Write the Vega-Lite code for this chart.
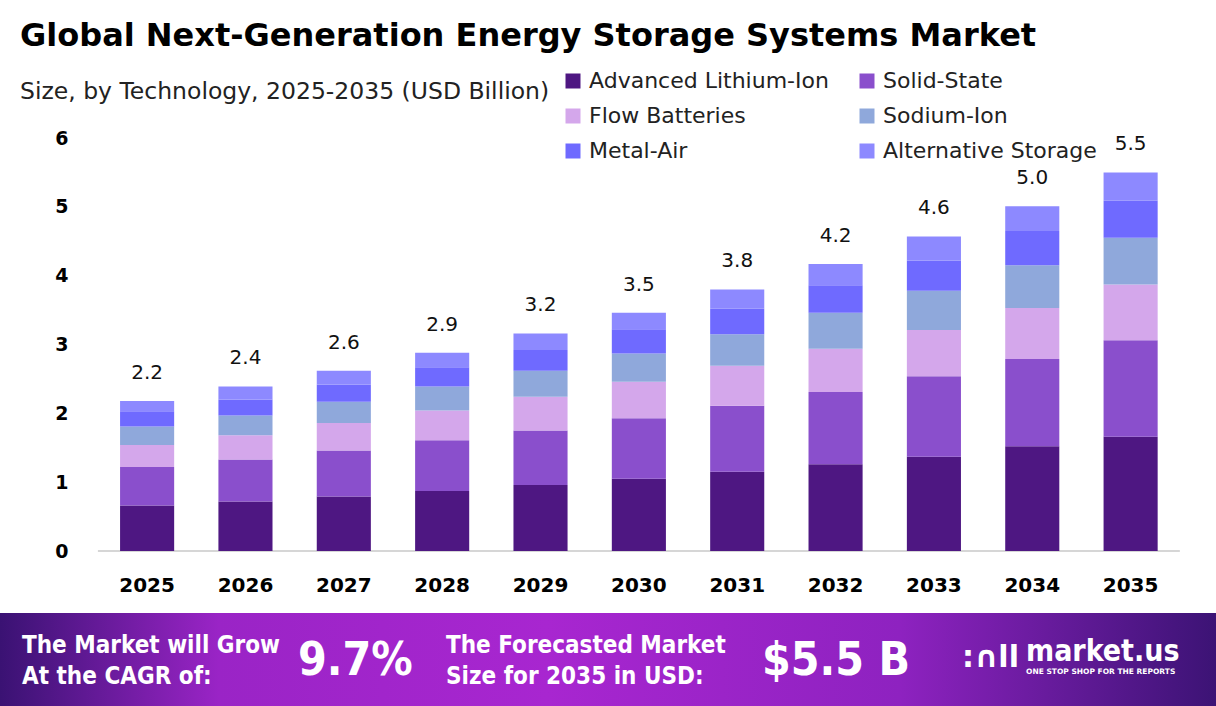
{
  "$schema": "https://vega.github.io/schema/vega-lite/v6.json",
  "background": "white",
  "padding": {"left": 0, "right": 0, "top": 19, "bottom": 0},
  "spacing": 0,
  "config": {
    "view": {"stroke": null},
    "font": "DejaVu Sans",
    "legend": {"padding": 0}
  },
  "vconcat": [
    {
      "width": 1216,
      "height": 413,
      "title": {
        "text": "Global Next-Generation Energy Storage Systems Market",
        "subtitle": "Size, by Technology, 2025-2035 (USD Billion)",
        "anchor": "start",
        "frame": "group",
        "dx": 20,
        "offset": 25,
        "font": "DejaVu Sans",
        "fontSize": 32,
        "fontWeight": "bold",
        "color": "#000000",
        "subtitleFont": "DejaVu Sans",
        "subtitleFontSize": 23.5,
        "subtitleColor": "#222222",
        "subtitlePadding": 27
      },
      "data": {
        "values": [
          {"year": "2025", "tech": "Advanced Lithium-Ion", "value": 0.66},
          {"year": "2025", "tech": "Solid-State", "value": 0.56},
          {"year": "2025", "tech": "Flow Batteries", "value": 0.32},
          {"year": "2025", "tech": "Sodium-Ion", "value": 0.27},
          {"year": "2025", "tech": "Metal-Air", "value": 0.22},
          {"year": "2025", "tech": "Alternative Storage", "value": 0.15},
          {"year": "2026", "tech": "Advanced Lithium-Ion", "value": 0.72},
          {"year": "2026", "tech": "Solid-State", "value": 0.61},
          {"year": "2026", "tech": "Flow Batteries", "value": 0.35},
          {"year": "2026", "tech": "Sodium-Ion", "value": 0.29},
          {"year": "2026", "tech": "Metal-Air", "value": 0.23},
          {"year": "2026", "tech": "Alternative Storage", "value": 0.19},
          {"year": "2027", "tech": "Advanced Lithium-Ion", "value": 0.79},
          {"year": "2027", "tech": "Solid-State", "value": 0.67},
          {"year": "2027", "tech": "Flow Batteries", "value": 0.40},
          {"year": "2027", "tech": "Sodium-Ion", "value": 0.31},
          {"year": "2027", "tech": "Metal-Air", "value": 0.25},
          {"year": "2027", "tech": "Alternative Storage", "value": 0.20},
          {"year": "2028", "tech": "Advanced Lithium-Ion", "value": 0.87},
          {"year": "2028", "tech": "Solid-State", "value": 0.74},
          {"year": "2028", "tech": "Flow Batteries", "value": 0.43},
          {"year": "2028", "tech": "Sodium-Ion", "value": 0.35},
          {"year": "2028", "tech": "Metal-Air", "value": 0.28},
          {"year": "2028", "tech": "Alternative Storage", "value": 0.21},
          {"year": "2029", "tech": "Advanced Lithium-Ion", "value": 0.96},
          {"year": "2029", "tech": "Solid-State", "value": 0.79},
          {"year": "2029", "tech": "Flow Batteries", "value": 0.49},
          {"year": "2029", "tech": "Sodium-Ion", "value": 0.38},
          {"year": "2029", "tech": "Metal-Air", "value": 0.30},
          {"year": "2029", "tech": "Alternative Storage", "value": 0.24},
          {"year": "2030", "tech": "Advanced Lithium-Ion", "value": 1.05},
          {"year": "2030", "tech": "Solid-State", "value": 0.88},
          {"year": "2030", "tech": "Flow Batteries", "value": 0.53},
          {"year": "2030", "tech": "Sodium-Ion", "value": 0.41},
          {"year": "2030", "tech": "Metal-Air", "value": 0.35},
          {"year": "2030", "tech": "Alternative Storage", "value": 0.24},
          {"year": "2031", "tech": "Advanced Lithium-Ion", "value": 1.15},
          {"year": "2031", "tech": "Solid-State", "value": 0.96},
          {"year": "2031", "tech": "Flow Batteries", "value": 0.58},
          {"year": "2031", "tech": "Sodium-Ion", "value": 0.46},
          {"year": "2031", "tech": "Metal-Air", "value": 0.37},
          {"year": "2031", "tech": "Alternative Storage", "value": 0.28},
          {"year": "2032", "tech": "Advanced Lithium-Ion", "value": 1.26},
          {"year": "2032", "tech": "Solid-State", "value": 1.05},
          {"year": "2032", "tech": "Flow Batteries", "value": 0.63},
          {"year": "2032", "tech": "Sodium-Ion", "value": 0.52},
          {"year": "2032", "tech": "Metal-Air", "value": 0.40},
          {"year": "2032", "tech": "Alternative Storage", "value": 0.31},
          {"year": "2033", "tech": "Advanced Lithium-Ion", "value": 1.37},
          {"year": "2033", "tech": "Solid-State", "value": 1.17},
          {"year": "2033", "tech": "Flow Batteries", "value": 0.67},
          {"year": "2033", "tech": "Sodium-Ion", "value": 0.57},
          {"year": "2033", "tech": "Metal-Air", "value": 0.44},
          {"year": "2033", "tech": "Alternative Storage", "value": 0.35},
          {"year": "2034", "tech": "Advanced Lithium-Ion", "value": 1.52},
          {"year": "2034", "tech": "Solid-State", "value": 1.27},
          {"year": "2034", "tech": "Flow Batteries", "value": 0.74},
          {"year": "2034", "tech": "Sodium-Ion", "value": 0.62},
          {"year": "2034", "tech": "Metal-Air", "value": 0.50},
          {"year": "2034", "tech": "Alternative Storage", "value": 0.36},
          {"year": "2035", "tech": "Advanced Lithium-Ion", "value": 1.66},
          {"year": "2035", "tech": "Solid-State", "value": 1.40},
          {"year": "2035", "tech": "Flow Batteries", "value": 0.81},
          {"year": "2035", "tech": "Sodium-Ion", "value": 0.68},
          {"year": "2035", "tech": "Metal-Air", "value": 0.54},
          {"year": "2035", "tech": "Alternative Storage", "value": 0.41}
        ]
      },
      "transform": [
        {"calculate": "indexof(['Advanced Lithium-Ion', 'Solid-State', 'Flow Batteries', 'Sodium-Ion', 'Metal-Air', 'Alternative Storage'], datum.tech)", "as": "stackRank"}
      ],
      "encoding": {
        "x": {
          "field": "year",
          "type": "nominal",
          "scale": {"paddingInner": 0.45, "paddingOuter": 0.907, "align": 0.673},
          "axis": {
            "title": null,
            "labelAngle": 0,
            "labelFont": "DejaVu Sans",
            "labelFontSize": 20,
            "labelFontWeight": "bold",
            "labelColor": "#000000",
            "labelPadding": 24,
            "ticks": false,
            "tickSize": 0,
            "domain": false,
            "minExtent": 62,
            "maxExtent": 62
          }
        }
      },
      "layer": [
        {
          "data": {"values": [{"level": 0}]},
          "mark": {"type": "rule", "color": "#d6d6d6", "strokeWidth": 2},
          "encoding": {
            "x": {"datum": "2025", "bandPosition": -0.41},
            "x2": {"datum": "2035", "bandPosition": 1.41},
            "y": {"field": "level", "type": "quantitative"}
          }
        },
        {
          "mark": {"type": "bar"},
          "encoding": {
            "y": {
              "field": "value",
              "type": "quantitative",
              "aggregate": "sum",
              "scale": {"domain": [0, 6], "nice": false},
              "axis": {
                "title": null,
                "offset": -98,
                "values": [0, 1, 2, 3, 4, 5, 6],
                "format": "d",
                "labelFont": "DejaVu Sans",
                "labelFontSize": 19,
                "labelFontWeight": "bold",
                "labelColor": "#000000",
                "labelPadding": 30,
                "ticks": false,
                "domain": false,
                "grid": false
              }
            },
            "order": {"field": "stackRank", "sort": "ascending"},
            "color": {
              "field": "tech",
              "type": "nominal",
              "scale": {
                "domain": ["Advanced Lithium-Ion", "Solid-State", "Flow Batteries", "Sodium-Ion", "Metal-Air", "Alternative Storage"],
                "range": ["#4E1782", "#8A4FCC", "#D4A7EB", "#8FA8DB", "#6F6AFF", "#8D89FF"]
              },
              "legend": {
                "title": null,
                "orient": "none",
                "direction": "horizontal",
                "legendX": 562,
                "legendY": -68,
                "columns": 2,
                "columnPadding": 27,
                "rowPadding": 13,
                "symbolType": "square",
                "symbolSize": 225,
                "symbolStrokeWidth": 0,
                "labelFont": "DejaVu Sans",
                "labelFontSize": 22,
                "labelColor": "#222222",
                "labelOffset": 5,
                "labelLimit": 320
              }
            }
          }
        },
        {
          "mark": {"type": "text", "baseline": "bottom", "dy": -18, "fontSize": 20, "color": "#111111"},
          "encoding": {
            "y": {"field": "value", "type": "quantitative", "aggregate": "sum"},
            "text": {"field": "value", "type": "quantitative", "aggregate": "sum", "format": ".1f"}
          }
        }
      ]
    },
    {
      "width": 1216,
      "height": 94,
      "layer": [
        {
          "data": {"values": [{"part": "banner"}]},
          "mark": {
            "type": "rect",
            "color": {
              "gradient": "linear",
              "x1": 0, "y1": 0, "x2": 1, "y2": 0,
              "stops": [
                {"offset": 0, "color": "#3A1273"},
                {"offset": 0.18, "color": "#9A24C6"},
                {"offset": 0.45, "color": "#A826D0"},
                {"offset": 0.74, "color": "#8E22C0"},
                {"offset": 1, "color": "#3C1375"}
              ]
            }
          },
          "encoding": {
            "x": {"field": "part", "type": "nominal", "scale": {"paddingInner": 0, "paddingOuter": 0}, "axis": null},
            "y": {"field": "part", "type": "nominal", "scale": {"paddingInner": 0, "paddingOuter": 0}, "axis": null}
          }
        },
        {
          "data": {
            "values": [
              {"block": "cagr", "line": "1", "label": "The Market will Grow"},
              {"block": "cagr", "line": "2", "label": "At the CAGR of:"},
              {"block": "size", "line": "1", "label": "The Forecasted Market"},
              {"block": "size", "line": "2", "label": "Size for 2035 in USD:"}
            ]
          },
          "mark": {"type": "text", "align": "left", "baseline": "alphabetic", "font": "DejaVu Sans Condensed", "fontSize": 24, "fontWeight": "bold", "color": "white"},
          "encoding": {
            "x": {"field": "block", "type": "nominal", "scale": {"domain": ["cagr", "size"], "range": [22, 446], "padding": 0}, "axis": null},
            "y": {"field": "line", "type": "nominal", "scale": {"domain": ["1", "2"], "range": [40, 71], "padding": 0}, "axis": null},
            "text": {"field": "label"}
          }
        },
        {
          "data": {
            "values": [
              {"block": "cagr", "label": "9.7%"},
              {"block": "size", "label": "$5.5 B"}
            ]
          },
          "mark": {"type": "text", "align": "left", "baseline": "alphabetic", "font": "DejaVu Sans Condensed", "fontSize": 46, "fontWeight": "bold", "color": "white"},
          "encoding": {
            "x": {"field": "block", "type": "nominal", "scale": {"domain": ["cagr", "size"], "range": [298, 762], "padding": 0}, "axis": null},
            "y": {"field": "block", "type": "nominal", "scale": {"domain": ["cagr", "size"], "range": [62, 62], "padding": 0}, "axis": null},
            "text": {"field": "label"}
          }
        },
        {
          "data": {"values": [{"part": "icon", "label": ":∩ll"}]},
          "mark": {"type": "text", "align": "left", "baseline": "alphabetic", "font": "DejaVu Sans", "fontSize": 30, "fontWeight": "bold", "color": "white"},
          "encoding": {
            "x": {"field": "part", "type": "nominal", "scale": {"domain": ["icon"], "range": [962, 962], "padding": 0}, "axis": null},
            "y": {"field": "part", "type": "nominal", "scale": {"domain": ["icon"], "range": [54, 54], "padding": 0}, "axis": null},
            "text": {"field": "label"}
          }
        },
        {
          "data": {"values": [{"part": "name", "label": "market.us"}]},
          "mark": {"type": "text", "align": "left", "baseline": "alphabetic", "font": "DejaVu Sans Condensed", "fontSize": 30, "fontWeight": "bold", "color": "white"},
          "encoding": {
            "x": {"field": "part", "type": "nominal", "scale": {"domain": ["name"], "range": [1026, 1026], "padding": 0}, "axis": null},
            "y": {"field": "part", "type": "nominal", "scale": {"domain": ["name"], "range": [48, 48], "padding": 0}, "axis": null},
            "text": {"field": "label"}
          }
        },
        {
          "data": {"values": [{"part": "tagline", "label": "ONE STOP SHOP FOR THE REPORTS"}]},
          "mark": {"type": "text", "align": "left", "baseline": "alphabetic", "font": "DejaVu Sans", "fontSize": 7.5, "fontWeight": "bold", "color": "white"},
          "encoding": {
            "x": {"field": "part", "type": "nominal", "scale": {"domain": ["tagline"], "range": [1026, 1026], "padding": 0}, "axis": null},
            "y": {"field": "part", "type": "nominal", "scale": {"domain": ["tagline"], "range": [61, 61], "padding": 0}, "axis": null},
            "text": {"field": "label"}
          }
        }
      ],
      "resolve": {"scale": {"x": "independent", "y": "independent"}}
    }
  ]
}
